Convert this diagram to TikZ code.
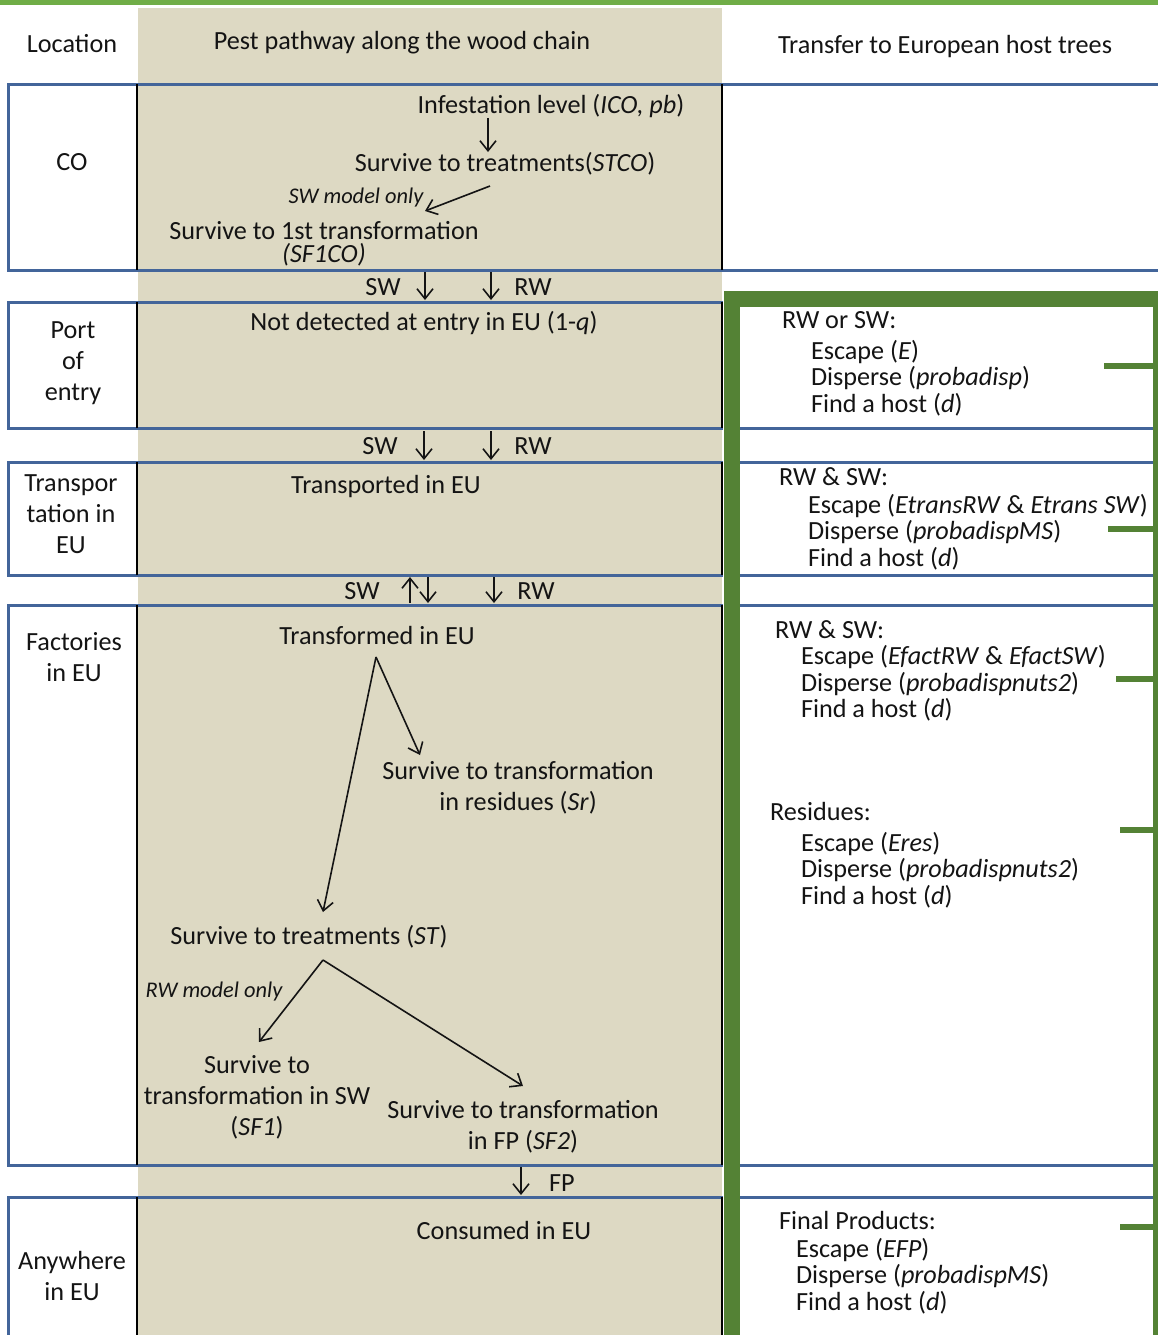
\documentclass[tikz,border=0pt]{standalone}
\usepackage{fontspec}
\setmainfont{Carlito}
\usetikzlibrary{arrows.meta}
\definecolor{beige}{HTML}{DDD9C3}
\definecolor{rowblue}{HTML}{43659A}
\definecolor{darkgreen}{HTML}{548235}
\definecolor{lightgreen}{HTML}{70AD47}
\definecolor{ink}{HTML}{141414}
\begin{document}
\begin{tikzpicture}[x=0.5pt,y=-0.5pt,
 txt/.style={inner sep=0pt, outer sep=0pt, text=ink, align=center, font=\fontsize{13.1}{15.5}\selectfont},
 lft/.style={inner sep=0pt, outer sep=0pt, text=ink, align=left, anchor=west, font=\fontsize{13.1}{13.2}\selectfont},
 note/.style={inner sep=0pt, outer sep=0pt, text=ink, font=\fontsize{11.2}{12}\selectfont\itshape},
 blueline/.style={draw=rowblue, line width=1.5pt},
 sepline/.style={draw=black, line width=1pt},
 arr/.style={draw=ink, line width=0.8pt, -{Straight Barb[length=5pt,width=8pt]}},
 gtick/.style={draw=darkgreen, line width=3pt},
]
\fill[white] (0,0) rectangle (1158,1335);
\useasboundingbox (0,0) rectangle (1158,1335);
\fill[lightgreen] (0,0) rectangle (1158,5);
\fill[beige] (138,8) rectangle (722,1335);

% row boxes
\draw[blueline] (1158,84) -- (8,84) -- (8,270) -- (1158,270);
\draw[blueline] (723,302) -- (8,302) -- (8,428) -- (723,428);
\draw[blueline] (723,462) -- (8,462) -- (8,575) -- (723,575);
\draw[blueline] (723,605) -- (8,605) -- (8,1165) -- (723,1165);
\draw[blueline] (723,1197) -- (8,1197) -- (8,1336);
\foreach \yy in {428,462,575,605,1165,1197}
  \draw[blueline] (740,\yy) -- (1153,\yy);
% column separators
\foreach \ya/\yb in {84/270,302/428,462/575,605/1165,1197/1336}{
  \draw[sepline] (137,\ya) -- (137,\yb);
  \draw[sepline] (722,\ya) -- (722,\yb);
}
% green frame
\fill[darkgreen] (724,291) rectangle (1158,307);
\fill[darkgreen] (724,291) rectangle (740,1335);
\fill[darkgreen] (1153,291) rectangle (1158,1335);
\draw[gtick] (1104,366) -- (1155,366);
\draw[gtick] (1108,529) -- (1155,529);
\draw[gtick] (1116,679) -- (1155,679);
\draw[gtick] (1120,830) -- (1155,830);
\draw[gtick] (1120,1227) -- (1155,1227);

% headers
\node[txt] (hloc) at (72,44) {Location};
\node[txt] (hpest) at (402,43) {Pest pathway along the wood chain};
\node[txt] (htrans) at (945,47) {Transfer to European host trees};

% location labels
\node[txt] (lco) at (72,162) {CO};
\node[txt] (lport) at (73,363.5) {Port\\of\\entry};
\node[txt] (ltransp) at (71,514) {Transpor\\tation in\\EU};
\node[txt] (lfact) at (74,657) {Factories\\in EU};
\node[txt] (lany) at (72,1276) {Anywhere\\in EU};

% CO row
\node[txt] (ico) at (551,106) {Infestation level (\textit{ICO, pb})};
\node[txt] (stco) at (505,164) {Survive to treatments(\textit{STCO})};
\node[note] (swonly) at (356,198) {SW model only};
\node[txt, font=\fontsize{13.1}{11.5}\selectfont] (sf1co) at (324,243.5) {Survive to 1st transformation\\\textit{(SF1CO)}};
\coordinate (c1a) at (488,118);
\coordinate (c1b) at (488,152);
\draw[arr] (c1a) -- (c1b);
\coordinate (c2a) at (490,186);
\coordinate (c2b) at (425,211);
\draw[arr] (c2a) -- (c2b);

% gap CO -> port
\node[txt] (g1sw) at (383,287) {SW};
\node[txt] (g1rw) at (533,287) {RW};
\coordinate (g1a) at (425,272);
\coordinate (g1b) at (425,300);
\coordinate (g1c) at (491,272);
\coordinate (g1d) at (491,300);
\draw[arr] (g1a) -- (g1b);
\draw[arr] (g1c) -- (g1d);

% port row
\node[txt] (notdet) at (424,323) {Not detected at entry in EU (1-\textit{q})};
\node[lft] (rw1) at (782,320) {RW or SW:};
\node[lft] (blk1) at (811,378) {Escape (\textit{E})\\Disperse (\textit{probadisp})\\Find a host (\textit{d})};

% gap port -> transport
\node[txt] (g2sw) at (380,446) {SW};
\node[txt] (g2rw) at (533,446) {RW};
\coordinate (g2a) at (424,431);
\coordinate (g2b) at (424,460);
\coordinate (g2c) at (491,431);
\coordinate (g2d) at (491,460);
\draw[arr] (g2a) -- (g2b);
\draw[arr] (g2c) -- (g2d);

% transport row
\node[txt] (transp) at (386,487) {Transported in EU};
\node[lft] (rw2) at (779,477) {RW \& SW:};
\node[lft] (blk2) at (808,532) {Escape (\textit{EtransRW} \& \textit{Etrans SW})\\Disperse (\textit{probadispMS})\\Find a host (\textit{d})};

% gap transport -> factories
\node[txt] (g3sw) at (362,591) {SW};
\node[txt] (g3rw) at (536,591) {RW};
\coordinate (g3a) at (410,603);
\coordinate (g3b) at (410,577);
\coordinate (g3c) at (428,577);
\coordinate (g3d) at (428,603);
\coordinate (g3e) at (494,577);
\coordinate (g3f) at (494,603);
\draw[arr] (g3a) -- (g3b);
\draw[arr] (g3c) -- (g3d);
\draw[arr] (g3e) -- (g3f);

% factories row
\node[txt] (transf) at (377,635) {Transformed in EU};
\node[txt] (sr) at (518,787.5) {Survive to transformation\\in residues (\textit{Sr})};
\node[txt] (st) at (309,937) {Survive to treatments (\textit{ST})};
\node[note] (rwonly) at (214,992) {RW model only};
\node[txt] (sf1) at (257,1097.5) {Survive to\\transformation in SW\\(\textit{SF1})};
\node[txt] (sf2) at (523,1126.5) {Survive to transformation\\in FP (\textit{SF2})};
\coordinate (apx1) at (376,657);
\coordinate (e1) at (420,755);
\coordinate (e2) at (323,912);
\draw[arr] (apx1) -- (e1);
\draw[arr] (apx1) -- (e2);
\coordinate (apx2) at (323,960);
\coordinate (e3) at (259,1042);
\coordinate (e4) at (523,1086);
\draw[arr] (apx2) -- (e3);
\draw[arr] (apx2) -- (e4);
\node[lft] (rw3) at (775,630) {RW \& SW:};
\node[lft] (blk3) at (801,683.5) {Escape (\textit{EfactRW} \& \textit{EfactSW})\\Disperse (\textit{probadispnuts2})\\Find a host (\textit{d})};
\node[lft] (res) at (770,811) {Residues:};
\node[lft] (blk4) at (801,870) {Escape (\textit{Eres})\\Disperse (\textit{probadispnuts2})\\Find a host (\textit{d})};

% gap factories -> anywhere
\node[txt] (g4fp) at (562,1183) {FP};
\coordinate (g4a) at (521,1167);
\coordinate (g4b) at (521,1195);
\draw[arr] (g4a) -- (g4b);

% anywhere row
\node[txt] (cons) at (504,1230) {Consumed in EU};
\node[lft] (fp) at (779,1220) {Final Products:};
\node[lft] (blk5) at (796,1276) {Escape (\textit{EFP})\\Disperse (\textit{probadispMS})\\Find a host (\textit{d})};
\end{tikzpicture}
\end{document}
